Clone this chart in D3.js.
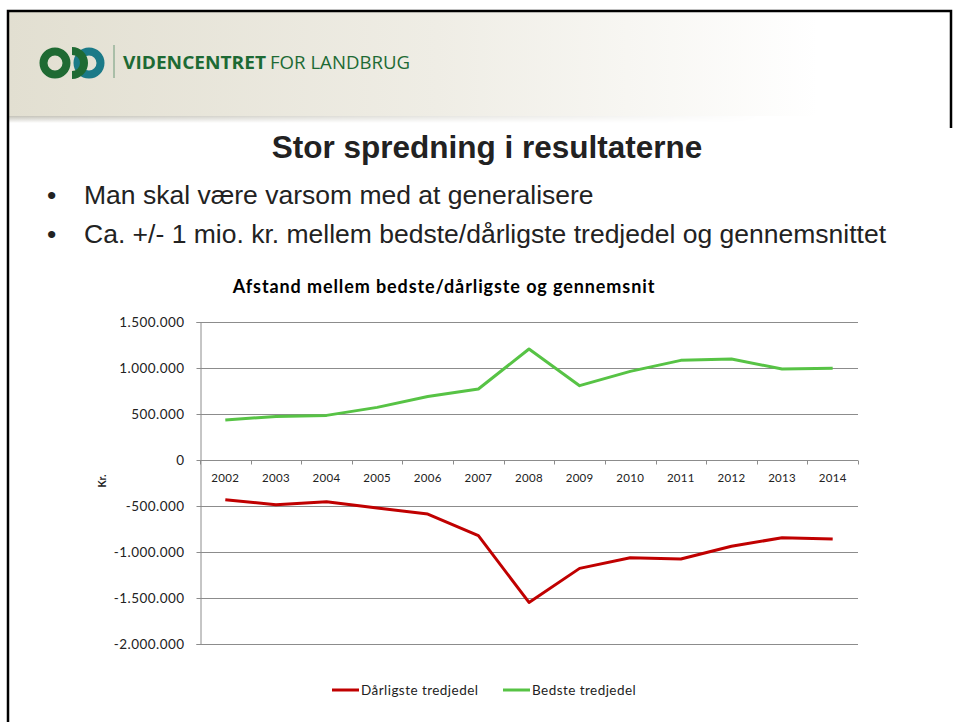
<!DOCTYPE html>
<html>
<head>
<meta charset="utf-8">
<script src="https://cdn.jsdelivr.net/npm/d3@7"></script>
<style>
  body { margin: 0; background: #fff; }
  svg { display: block; }
</style>
</head>
<body>
<div id="slide"></div>
<script>
// data
var years = ["2002","2003","2004","2005","2006","2007","2008","2009","2010","2011","2012","2013","2014"];
var bedste = [435000, 474000, 485000, 572000, 691000, 772000, 1207000, 808000, 963000, 1083000, 1098000, 989000, 996000];
var darligste = [-432000, -486000, -454000, -522000, -587000, -823000, -1548000, -1178000, -1062000, -1076000, -938000, -845000, -859000];
var yTicks = [1500000, 1000000, 500000, 0, -500000, -1000000, -1500000, -2000000];
var seriesNames = ["Dårligste tredjedel", "Bedste tredjedel"];
var bullets = ["Man skal være varsom med at generalisere",
               "Ca. +/- 1 mio. kr. mellem bedste/dårligste tredjedel og gennemsnittet"];

var W = 953, H = 722;
var svg = d3.select("#slide").append("svg")
    .attr("width", W)
    .attr("height", H);

var defs = svg.append("defs");
var hg = defs.append("linearGradient").attr("id", "hdr");
hg.append("stop").attr("offset", "0%").attr("stop-color", "#e2dfd1");
hg.append("stop").attr("offset", "45%").attr("stop-color", "#efede5");
hg.append("stop").attr("offset", "85%").attr("stop-color", "#ffffff");
var sg = defs.append("linearGradient").attr("id", "shd")
    .attr("x1", 0).attr("y1", 0).attr("x2", 0).attr("y2", 1);
sg.append("stop").attr("offset", "0%").attr("stop-color", "#c4c2b8");
sg.append("stop").attr("offset", "100%").attr("stop-color", "#ffffff");
var sm = defs.append("linearGradient").attr("id", "shdmask");
sm.append("stop").attr("offset", "0%").attr("stop-color", "#fff").attr("stop-opacity", 1);
sm.append("stop").attr("offset", "80%").attr("stop-color", "#fff").attr("stop-opacity", 0);
defs.append("mask").attr("id", "fade")
  .append("rect").attr("x", 0).attr("y", 0).attr("width", W).attr("height", H)
    .attr("fill", "url(#shdmask)");

// header band
svg.append("rect").attr("x", 8).attr("y", 12).attr("width", W).attr("height", 104)
    .attr("fill", "url(#hdr)");
svg.append("rect").attr("x", 8).attr("y", 116).attr("width", W).attr("height", 7)
    .attr("fill", "url(#shd)").attr("mask", "url(#fade)");

// slide border
svg.append("path")
    .attr("d", "M8," + H + "V11H951V128")
    .attr("fill", "none").attr("stroke", "#000").attr("stroke-width", 2.5);

// logo
var logo = svg.append("g");
logo.append("circle").attr("cx", 55).attr("cy", 63).attr("r", 11.5)
    .attr("fill", "none").attr("stroke", "#1f6a33").attr("stroke-width", 8);
logo.append("circle").attr("cx", 89).attr("cy", 63).attr("r", 11.5)
    .attr("fill", "none").attr("stroke", "#1b7a88").attr("stroke-width", 8);
logo.append("path").attr("d", "M 72,51 A 11.5,11.5 0 0 1 72,75")
    .attr("fill", "none").attr("stroke", "#1f6a33").attr("stroke-width", 8);
logo.append("line").attr("x1", 114).attr("x2", 114).attr("y1", 45).attr("y2", 78)
    .attr("stroke", "#6f9a7a").attr("stroke-width", 1);
var brand = svg.append("text").attr("x", 123).attr("y", 69)
    .style("font-family", "'Open Sans', sans-serif").style("font-size", "18px")
    .attr("fill", "#1d6a34");
brand.append("tspan").style("font-weight", "bold").text("VIDENCENTRET")
    .attr("textLength", 143).attr("lengthAdjust", "spacingAndGlyphs");
brand.append("tspan").attr("x", 270).text("FOR LANDBRUG")
    .attr("textLength", 140).attr("lengthAdjust", "spacingAndGlyphs");

// slide title and bullets
svg.append("text").attr("x", 487).attr("y", 158)
    .attr("text-anchor", "middle")
    .style("font-family", "'Liberation Sans', Arial, sans-serif")
    .style("font-weight", "bold").style("font-size", "31.5px")
    .attr("fill", "#222").text("Stor spredning i resultaterne");

bullets.forEach(function(b, i) {
  var yy = 204 + i * 39;
  svg.append("text").attr("x", 47).attr("y", yy)
      .style("font-family", "'Liberation Sans', Arial, sans-serif")
      .style("font-size", "26.5px").attr("fill", "#222").text("•");
  svg.append("text").attr("x", 84).attr("y", yy)
      .style("font-family", "'Liberation Sans', Arial, sans-serif")
      .style("font-size", "26.5px").attr("fill", "#222").text(b);
});

// chart
var chartFont = "Lato, 'Open Sans', sans-serif";
var x = d3.scaleBand().domain(years).range([200, 858]).paddingInner(0).paddingOuter(0);
var y = d3.scaleLinear().domain([-2000000, 1500000]).range([644, 322]);
var fmt = function(v) { return d3.format(",")(v).replace(/,/g, ".").replace("−", "-"); };

svg.append("text").attr("x", 444).attr("y", 293)
    .attr("text-anchor", "middle")
    .style("font-family", chartFont).style("font-weight", "bold").style("font-size", "18px")
    .style("letter-spacing", "0.9px")
    .attr("fill", "#000").text("Afstand mellem bedste/dårligste og gennemsnit");

// gridlines
svg.append("g").selectAll("line").data(yTicks).enter().append("line")
    .attr("x1", 200).attr("x2", 858)
    .attr("y1", function(d) { return Math.round(y(d)) + 0.5; })
    .attr("y2", function(d) { return Math.round(y(d)) + 0.5; })
    .attr("stroke", "#8c8c8c").attr("stroke-width", 1);

// y axis
var yAxis = svg.append("g").attr("transform", "translate(200.5,0)")
    .call(d3.axisLeft(y).tickValues(yTicks).tickSize(4).tickPadding(12).tickFormat(fmt));
yAxis.selectAll("path,line").attr("stroke", "#8c8c8c");
yAxis.selectAll("text").style("font-family", chartFont).style("font-size", "13.5px")
    .style("letter-spacing", "0.45px").attr("fill", "#222");

// x axis on zero line, ticks at category borders
var xAxis = svg.append("g").attr("transform", "translate(0," + (Math.round(y(0)) + 0.5) + ")");
xAxis.append("line").attr("x1", 200).attr("x2", 858).attr("stroke", "#8c8c8c");
xAxis.selectAll(".tk").data(years.concat(["end"])).enter().append("line")
    .attr("x1", function(d, i) { return Math.round(200 + i * x.bandwidth()) + 0.5; })
    .attr("x2", function(d, i) { return Math.round(200 + i * x.bandwidth()) + 0.5; })
    .attr("y1", 0).attr("y2", 4).attr("stroke", "#8c8c8c");
xAxis.selectAll(".lbl").data(years).enter().append("text")
    .attr("x", function(d) { return x(d) + x.bandwidth() / 2; })
    .attr("y", 21).attr("text-anchor", "middle")
    .style("font-family", chartFont).style("font-size", "11.5px")
    .style("letter-spacing", "0.3px").attr("fill", "#222")
    .text(function(d) { return d; });

svg.append("text")
    .attr("transform", "translate(106,481) rotate(-90)")
    .attr("text-anchor", "middle")
    .style("font-family", chartFont).style("font-weight", "bold").style("font-size", "10.5px")
    .attr("fill", "#222").text("Kr.");

// lines
var line = d3.line()
    .x(function(d, i) { return x(years[i]) + x.bandwidth() / 2; })
    .y(function(d) { return y(d); });
var colors = ["#c00000", "#57c345"];
[darligste, bedste].forEach(function(s, k) {
  svg.append("path").datum(s)
      .attr("d", line)
      .attr("fill", "none")
      .attr("stroke", colors[k])
      .attr("stroke-width", 3)
      .attr("stroke-linejoin", "round");
});

// legend
var lg = svg.append("g");
var lx = [332, 503];
seriesNames.forEach(function(n, k) {
  lg.append("line").attr("x1", lx[k]).attr("x2", lx[k] + 27)
      .attr("y1", 690).attr("y2", 690)
      .attr("stroke", colors[k]).attr("stroke-width", 3);
  lg.append("text").attr("x", lx[k] + 29).attr("y", 695)
      .style("font-family", chartFont).style("font-size", "13.5px")
      .style("letter-spacing", "0.45px").attr("fill", "#222")
      .text(n);
});
</script>
</body>
</html>
